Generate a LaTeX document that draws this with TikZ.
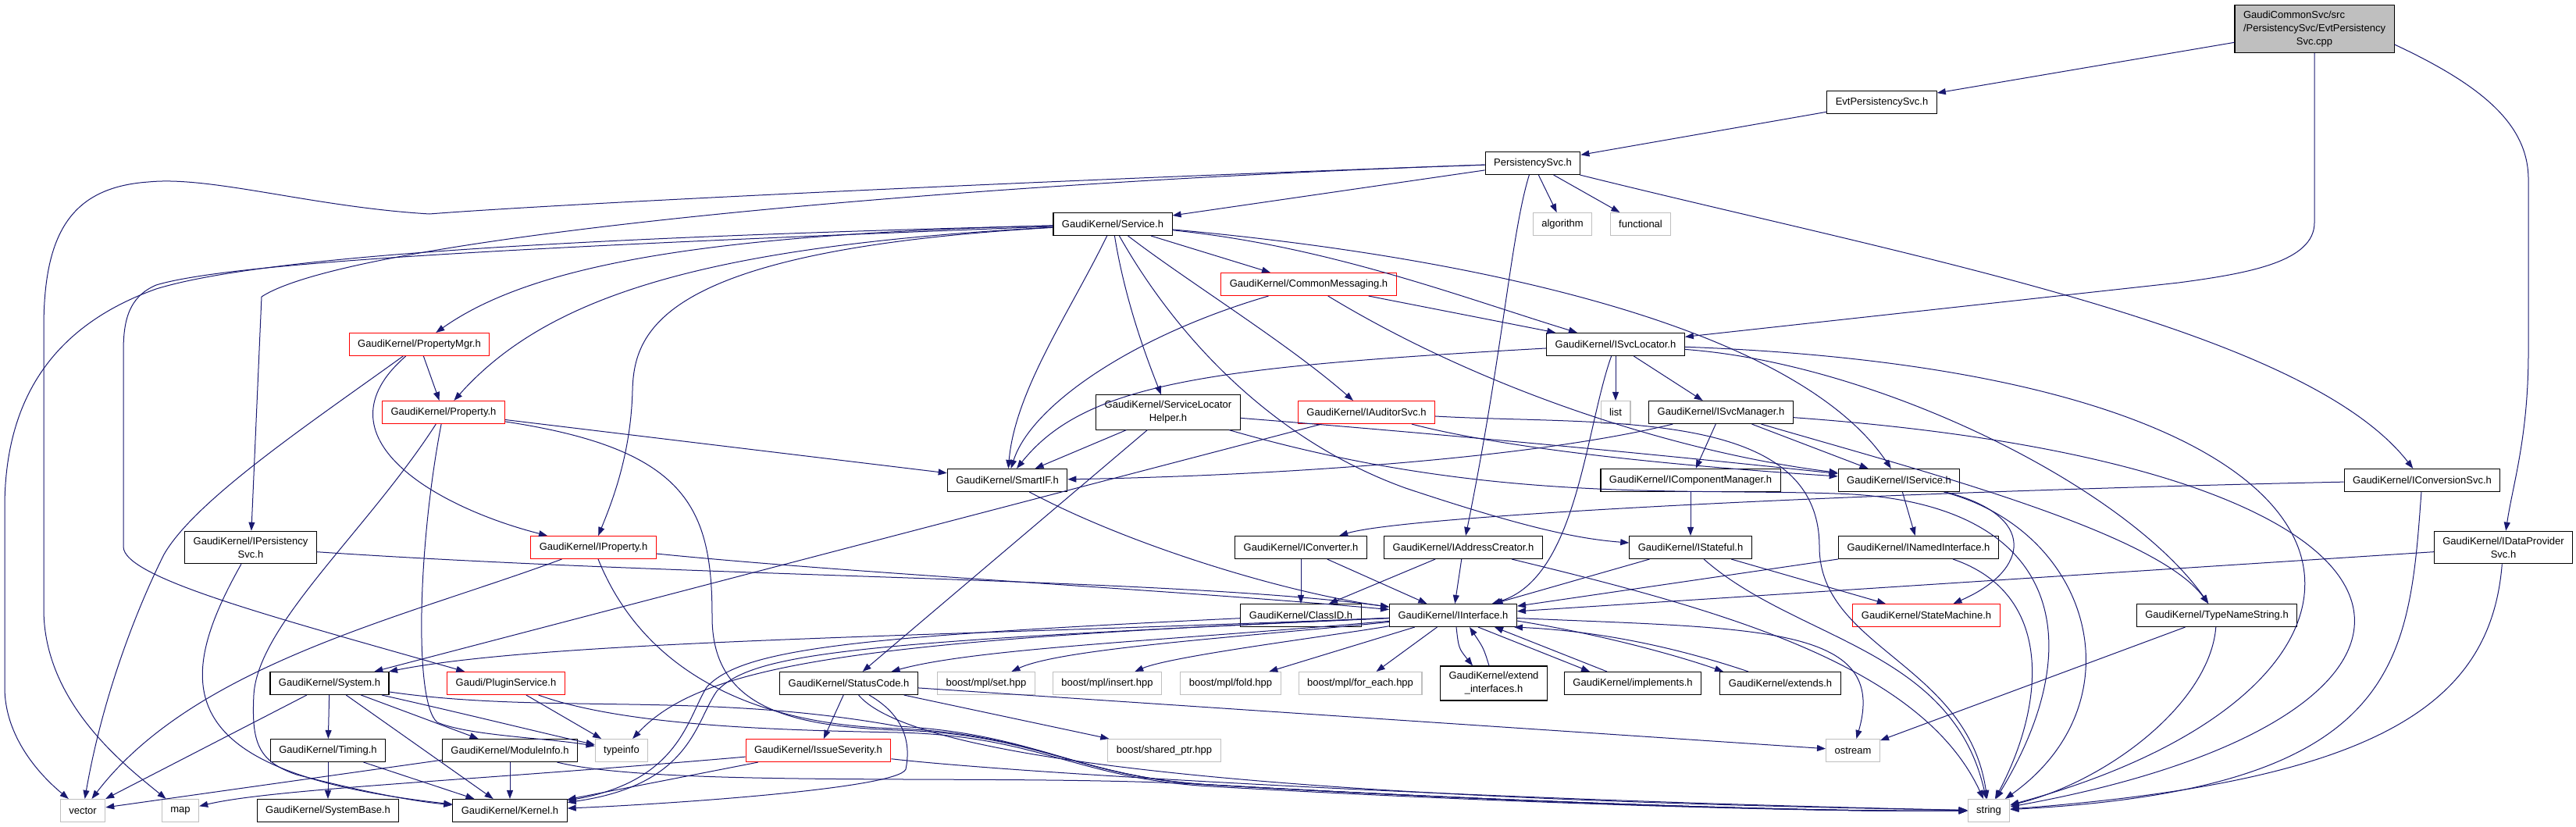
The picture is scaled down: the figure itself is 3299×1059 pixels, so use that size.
\documentclass[tikz,border=0pt]{standalone}
\usepackage{fontspec}
\setmainfont{Liberation Sans}
\usetikzlibrary{arrows.meta}
\definecolor{edgeblue}{RGB}{25,25,112}
\definecolor{sysgray}{RGB}{191,191,191}
\tikzset{
  hdr/.style={draw=black, line width=1.1pt, fill=white, inner xsep=11pt, inner ysep=7.5pt,
    minimum height=29pt, font=\fontsize{13}{17}\selectfont, align=center},
  trunc/.style={hdr, draw=red},
  sys/.style={hdr, draw=sysgray},
  srcfile/.style={hdr, fill=sysgray, align=left},
  dep/.style={draw=edgeblue, line width=1pt, -{Triangle[length=11pt,width=8pt]}},
}

\begin{document}
\begin{tikzpicture}[x=1pt,y=-1pt]
    \useasboundingbox (0,0) rectangle (3299,1059);

    % top rows
    \node[srcfile] (root) at (2964,37) {GaudiCommonSvc/src\\/PersistencySvc/EvtPersistency\\\hspace*{\fill}Svc.cpp\hspace*{\fill}};
    \node[hdr] (evtsvc) at (2410,131) {EvtPersistencySvc.h};
    \node[hdr] (persist) at (1963,209) {PersistencySvc.h};
    \node[hdr] (service) at (1425,287) {GaudiKernel/Service.h};
    \node[sys] (algorithm) at (2001,287) {algorithm};
    \node[sys] (functional) at (2101,287) {functional};
    \node[trunc] (commsg) at (1676,364) {GaudiKernel/CommonMessaging.h};
    \node[trunc] (propmgr) at (537,441) {GaudiKernel/PropertyMgr.h};
    \node[hdr] (isvcloc) at (2069,441) {GaudiKernel/ISvcLocator.h};
    \node[trunc] (property) at (568,528) {GaudiKernel/Property.h};
    \node[hdr] (slhelper) at (1496,528) {GaudiKernel/ServiceLocator\\Helper.h};
    \node[trunc] (iauditor) at (1750,528) {GaudiKernel/IAuditorSvc.h};
    \node[sys] (list) at (2069,528) {list};
    \node[hdr] (isvcmgr) at (2204,528) {GaudiKernel/ISvcManager.h};
    \node[hdr] (smartif) at (1290,615) {GaudiKernel/SmartIF.h};
    \node[hdr] (icompmgr) at (2165,615) {GaudiKernel/IComponentManager.h};
    \node[hdr] (iservice) at (2432,615) {GaudiKernel/IService.h};
    \node[hdr] (iconvsvc) at (3102,615) {GaudiKernel/IConversionSvc.h};

    % middle rows
    \node[hdr] (ipersist) at (321,701) {GaudiKernel/IPersistency\\Svc.h};
    \node[trunc] (iproperty) at (760,701) {GaudiKernel/IProperty.h};
    \node[hdr] (iconverter) at (1666,701) {GaudiKernel/IConverter.h};
    \node[hdr] (iaddr) at (1874,701) {GaudiKernel/IAddressCreator.h};
    \node[hdr] (istateful) at (2165,701) {GaudiKernel/IStateful.h};
    \node[hdr] (inamed) at (2457,701) {GaudiKernel/INamedInterface.h};
    \node[hdr] (idataprov) at (3206,701) {GaudiKernel/IDataProvider\\Svc.h};
    \node[hdr] (classid) at (1666,788) {GaudiKernel/ClassID.h};
    \node[hdr] (iinterface) at (1861,788) {GaudiKernel/IInterface.h};
    \node[trunc] (statemach) at (2467,788) {GaudiKernel/StateMachine.h};
    \node[hdr] (typename) at (2839,788) {GaudiKernel/TypeNameString.h};
    \node[hdr] (system) at (422,875) {GaudiKernel/System.h};
    \node[trunc] (plugin) at (648,875) {Gaudi/PluginService.h};
    \node[hdr] (statuscode) at (1087,875) {GaudiKernel/StatusCode.h};
    \node[sys] (mplset) at (1263,875) {boost/mpl/set.hpp};
    \node[sys] (mplinsert) at (1418,875) {boost/mpl/insert.hpp};
    \node[sys] (mplfold) at (1576,875) {boost/mpl/fold.hpp};
    \node[sys] (mplforeach) at (1742,875) {boost/mpl/for\_each.hpp};
    \node[hdr] (extendif) at (1913,875) {GaudiKernel/extend\\\_interfaces.h};
    \node[hdr] (implements) at (2091,875) {GaudiKernel/implements.h};
    \node[hdr] (extends) at (2280,875) {GaudiKernel/extends.h};

    % bottom rows
    \node[hdr] (timing) at (420,961) {GaudiKernel/Timing.h};
    \node[hdr] (moduleinfo) at (653,961) {GaudiKernel/ModuleInfo.h};
    \node[sys] (typeinfo) at (796,961) {typeinfo};
    \node[trunc] (issuesev) at (1048,961) {GaudiKernel/IssueSeverity.h};
    \node[sys] (sharedptr) at (1491,961) {boost/shared\_ptr.hpp};
    \node[sys] (ostream) at (2373,961) {ostream};
    \node[sys] (vector) at (106,1038) {vector};
    \node[sys] (map) at (231,1038) {map};
    \node[hdr] (systembase) at (420,1038) {GaudiKernel/SystemBase.h};
    \node[hdr] (kernel) at (653,1038) {GaudiKernel/Kernel.h};
    \node[sys] (string) at (2547,1038) {string};

    % source file
    \draw[dep] (root) -- (evtsvc);
    \draw[dep] (root.south) -- (2964,285) .. controls (2964,335) and (2880,350) .. (2790,362) -- (isvcloc);
    \draw[dep] ([yshift=-20pt]root.east) .. controls (3180,110) and (3238,160) .. (3238,230) -- (3238,450) .. controls (3238,560) and (3218,620) .. (idataprov);
    \draw[dep] (evtsvc) -- (persist);

    % PersistencySvc.h
    \draw[dep] (persist) -- (service);
    \draw[dep] (persist) -- (algorithm);
    \draw[dep] (persist) -- (functional);
    \draw[dep] (persist) .. controls (1935,300) and (1925,450) .. (iaddr);
    \draw[dep] (persist) .. controls (2450,330) and (2950,420) .. (iconvsvc);
    \draw[dep] (persist) .. controls (1200,235) and (450,305) .. (335,380) -- (ipersist);
    \draw[dep] (persist) .. controls (1300,232) and (700,262) .. (550,274) .. controls (400,265) and (270,225) .. (190,233) .. controls (90,240) and (56,300) .. (56,420) -- (56,780) .. controls (56,900) and (160,980) .. (map);

    % Service.h
    \draw[dep] (service) .. controls (700,305) and (330,330) .. (200,370) .. controls (60,420) and (6,520) .. (6,650) -- (6,880) .. controls (6,950) and (60,1000) .. (vector);
    \draw[dep] (service) .. controls (700,315) and (300,335) .. (200,365) .. controls (165,380) and (158,410) .. (158,450) -- (158,700) .. controls (158,740) and (350,790) .. (plugin);
    \draw[dep] (service) .. controls (900,300) and (680,340) .. (propmgr);
    \draw[dep] (service) .. controls (900,315) and (700,380) .. (property);
    \draw[dep] (service) .. controls (850,320) and (812,420) .. (810,500) .. controls (808,580) and (785,640) .. (iproperty);
    \draw[dep] (service) .. controls (1370,400) and (1300,500) .. (smartif);
    \draw[dep] (service) .. controls (1440,380) and (1465,450) .. (slhelper);
    \draw[dep] (service) .. controls (1500,420) and (1620,560) .. (1800,625) .. controls (1950,675) and (2020,690) .. (istateful);
    \draw[dep] (service) .. controls (1520,360) and (1650,440) .. (iauditor);
    \draw[dep] (service) -- (commsg);
    \draw[dep] (service) .. controls (1700,315) and (1870,380) .. (isvcloc);
    \draw[dep] (service) .. controls (1900,330) and (2300,420) .. (iservice);

    % CommonMessaging.h
    \draw[dep] (commsg) .. controls (1450,430) and (1320,520) .. (smartif);
    \draw[dep] (commsg) -- (isvcloc);
    \draw[dep] (commsg) .. controls (1900,500) and (2150,580) .. (iservice);

    % ISvcLocator.h
    \draw[dep] (isvcloc) .. controls (1550,470) and (1390,490) .. (smartif);
    \draw[dep] (isvcloc) -- (list);
    \draw[dep] (isvcloc) -- (isvcmgr);
    \draw[dep] (isvcloc) .. controls (2030,550) and (2020,740) .. (iinterface);
    \draw[dep] (isvcloc) .. controls (2400,465) and (2720,620) .. (typename);
    \draw[dep] (isvcloc) .. controls (3130,480) and (3130,880) .. (string);

    % ISvcManager.h
    \draw[dep] (isvcmgr) .. controls (1950,590) and (1600,610) .. (smartif);
    \draw[dep] (isvcmgr) -- (icompmgr);
    \draw[dep] (isvcmgr) -- (iservice);
    \draw[dep] (isvcmgr) .. controls (2450,600) and (2760,680) .. (typename);
    \draw[dep] (isvcmgr) .. controls (3200,600) and (3200,920) .. (string);

    % ServiceLocatorHelper.h
    \draw[dep] (slhelper) -- (smartif);
    \draw[dep] (slhelper) .. controls (1900,560) and (2200,590) .. (iservice);
    \draw[dep] (slhelper) -- (statuscode);
    \draw[dep] (slhelper) .. controls (1900,645) and (2150,625) .. (2350,632) .. controls (2640,640) and (2680,820) .. (string);

    % IAuditorSvc.h
    \draw[dep] (iauditor) -- (system);
    \draw[dep] (iauditor) .. controls (1950,580) and (2200,600) .. (iservice);
    \draw[dep] (iauditor) .. controls (2050,545) and (2330,520) .. (2330,700) .. controls (2330,830) and (2520,850) .. (string);

    % SmartIF.h, IComponentManager.h, IStateful.h
    \draw[dep] (smartif) .. controls (1450,700) and (1650,760) .. (iinterface);
    \draw[dep] (icompmgr) -- (istateful);
    \draw[dep] (istateful) -- (iinterface);
    \draw[dep] (istateful) -- (statemach);
    \draw[dep] (istateful) .. controls (2300,820) and (2500,830) .. (string);

    % INamedInterface.h, IService.h
    \draw[dep] (inamed) -- (iinterface);
    \draw[dep] (inamed) .. controls (2630,760) and (2620,900) .. (string);
    \draw[dep] (iservice) -- (inamed);
    \draw[dep] (iservice) .. controls (2610,660) and (2600,730) .. (statemach);
    \draw[dep] (iservice) .. controls (2680,680) and (2740,900) .. (string);

    % IConversionSvc.h, IDataProviderSvc.h
    \draw[dep] (iconvsvc) .. controls (2400,630) and (1800,660) .. (iconverter);
    \draw[dep] (iconvsvc) .. controls (3085,850) and (3075,1010) .. (string);
    \draw[dep] (idataprov) -- (iinterface);
    \draw[dep] (idataprov) .. controls (3190,900) and (3050,1000) .. (string);

    % IConverter.h, IAddressCreator.h, ClassID.h
    \draw[dep] (iconverter) -- (classid);
    \draw[dep] (iconverter) -- (iinterface);
    \draw[dep] (iaddr) -- (classid);
    \draw[dep] (iaddr) -- (iinterface);
    \draw[dep] (iaddr) .. controls (2200,780) and (2460,850) .. (string);
    \draw[dep] (classid) .. controls (1100,815) and (950,830) .. (905,880) .. controls (880,920) and (870,1000) .. (kernel);

    % IInterface.h
    \draw[dep] (iinterface) .. controls (1200,815) and (700,820) .. (system);
    \draw[dep] (iinterface) .. controls (1500,820) and (1250,830) .. (statuscode);
    \draw[dep] (iinterface) .. controls (1600,815) and (1360,830) .. (mplset);
    \draw[dep] (iinterface) .. controls (1700,815) and (1500,840) .. (mplinsert);
    \draw[dep] (iinterface) -- (mplfold);
    \draw[dep] (iinterface) -- (mplforeach);
    \draw[dep] ([xshift=4pt]iinterface.south) .. controls (1868,830) .. ([xshift=-27pt]extendif.north);
    \draw[dep] ([xshift=-6pt]extendif.north) .. controls (1900,830) .. ([xshift=21pt]iinterface.south);
    \draw[dep] ([xshift=32pt]iinterface.south) -- ([xshift=-55pt]implements.north);
    \draw[dep] ([xshift=-33pt]implements.north) -- ([xshift=53pt]iinterface.south);
    \draw[dep] ([yshift=8pt]iinterface.south east) .. controls (2050,812) and (2150,840) .. ([xshift=-73pt]extends.north);
    \draw[dep] ([xshift=-41pt]extends.north) .. controls (2150,830) and (2050,808) .. ([xshift=-4pt]iinterface.south east);
    \draw[dep] (iinterface) .. controls (1100,820) and (900,850) .. (typeinfo);
    \draw[dep] (iinterface) .. controls (1100,822) and (965,835) .. (918,885) .. controls (890,925) and (885,1005) .. (kernel);
    \draw[dep] (iinterface) .. controls (2250,805) and (2420,800) .. (ostream);

    % StatusCode.h
    \draw[dep] (statuscode) -- (issuesev);
    \draw[dep] (statuscode) .. controls (1165,920) and (1165,960) .. (1160,985) .. controls (1150,1010) and (850,1030) .. (kernel);
    \draw[dep] (statuscode) -- (sharedptr);
    \draw[dep] (statuscode) -- (ostream);
    \draw[dep] (statuscode) .. controls (1200,1010) and (2100,1030) .. (string);

    % TypeNameString.h, IPersistencySvc.h
    \draw[dep] (typename) -- (ostream);
    \draw[dep] (typename) .. controls (2830,900) and (2700,1000) .. (string);
    \draw[dep] (ipersist) .. controls (900,740) and (1500,740) .. (iinterface);
    \draw[dep] (ipersist) .. controls (220,880) and (220,990) .. (kernel);

    % IProperty.h, Property.h, PropertyMgr.h
    \draw[dep] (iproperty) .. controls (1100,735) and (1500,755) .. (iinterface);
    \draw[dep] (iproperty) .. controls (520,790) and (250,850) .. (vector);
    \draw[dep] (iproperty) .. controls (820,850) and (950,928) .. (1150,933) .. controls (1330,940) and (1380,995) .. (1550,1005) .. controls (1900,1025) and (2300,1040) .. (string);
    \draw[dep] (property) -- (smartif);
    \draw[dep] (property) .. controls (470,680) and (330,800) .. (325,890) .. controls (322,950) and (330,975) .. (380,992) .. controls (450,1010) and (520,1025) .. (kernel);
    \draw[dep] (property) .. controls (535,700) and (530,900) .. (560,925) .. controls (600,942) and (700,945) .. (typeinfo);
    \draw[dep] (property) .. controls (880,575) and (912,650) .. (912,790) .. controls (912,900) and (1000,930) .. (1150,935) .. controls (1330,940) and (1380,995) .. (1550,1005) .. controls (1900,1025) and (2300,1040) .. (string);
    \draw[dep] (propmgr) -- (property);
    \draw[dep] (propmgr) .. controls (400,560) and (560,650) .. (iproperty);
    \draw[dep] (propmgr) .. controls (400,540) and (250,640) .. (210,710) .. controls (170,790) and (130,900) .. (vector);

    % PluginService.h, System.h
    \draw[dep] (plugin) -- (typeinfo);
    \draw[dep] (plugin) .. controls (800,930) and (1000,935) .. (1150,938) .. controls (1330,942) and (1380,997) .. (1550,1007) .. controls (1900,1027) and (2300,1040) .. (string);
    \draw[dep] (system) -- (timing);
    \draw[dep] (system) -- (moduleinfo);
    \draw[dep] (system) -- (kernel);
    \draw[dep] (system) -- (vector);
    \draw[dep] (system) .. controls (600,915) and (700,940) .. (typeinfo);
    \draw[dep] (system) .. controls (700,915) and (900,885) .. (1150,930) .. controls (1330,940) and (1380,995) .. (1550,1005) .. controls (1900,1025) and (2300,1040) .. (string);

    % Timing.h, ModuleInfo.h, IssueSeverity.h
    \draw[dep] (timing) -- (systembase);
    \draw[dep] (timing) -- (kernel);
    \draw[dep] (moduleinfo) -- (kernel);
    \draw[dep] (moduleinfo) -- (vector);
    \draw[dep] (moduleinfo) .. controls (850,1010) and (1300,990) .. (1550,1005) .. controls (1900,1025) and (2300,1040) .. (string);
    \draw[dep] (issuesev) -- (kernel);
    \draw[dep] (issuesev) .. controls (600,1000) and (350,1010) .. (map);
    \draw[dep] (issuesev) .. controls (1300,990) and (1900,1025) .. (string);
\end{tikzpicture}
\end{document}
